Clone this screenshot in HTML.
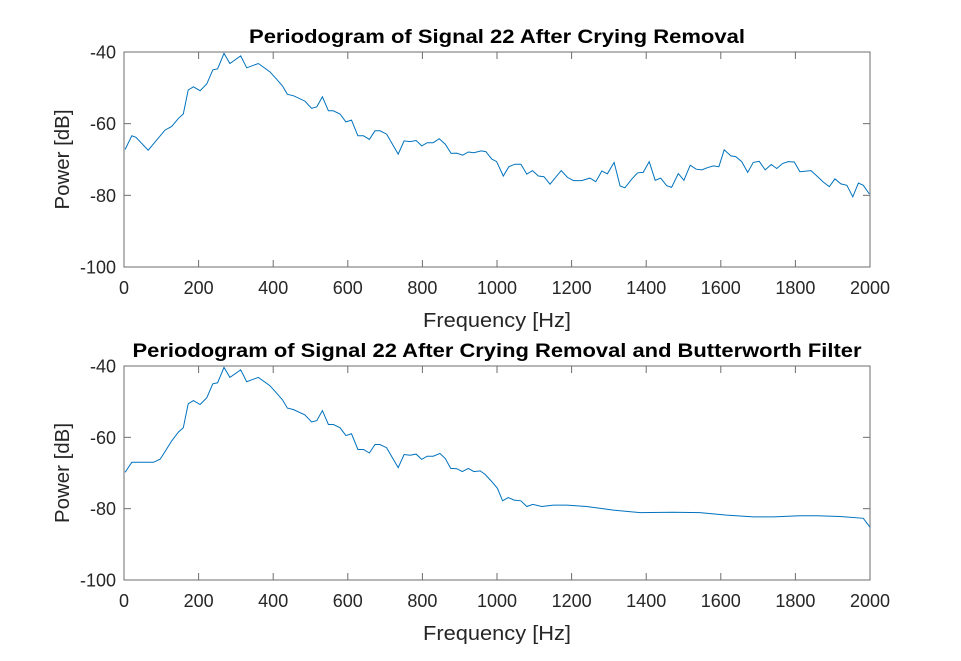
<!DOCTYPE html>
<html><head><meta charset="utf-8"><style>
html,body{margin:0;padding:0;background:#fff;}
svg{display:block;font-family:"Liberation Sans",Arial,sans-serif;}
</style></head><body>
<svg id="chart" width="961" height="661" viewBox="0 0 961 661" xmlns="http://www.w3.org/2000/svg"></svg>
<script>
const freqTop=[3,21,32,65,110,128,146,159,172,186,204,222,238,251,268,284,313,329,360,391,409,425,438,454,485,503,517,532,548,561,579,595,610,627,642,658,673,686,704,735,751,767,783,798,813,829,845,861,877,892,908,923,938,957,970,986,999,1017,1032,1048,1064,1080,1095,1111,1126,1142,1172,1189,1205,1227,1249,1265,1281,1296,1314,1330,1343,1361,1377,1392,1408,1424,1439,1455,1468,1486,1501,1518,1534,1549,1564,1580,1595,1609,1627,1640,1656,1672,1687,1703,1719,1735,1750,1766,1781,1797,1812,1842,1875,1891,1906,1922,1938,1954,1969,1982,1998];
const powerTop=[-67.2,-63.4,-63.8,-67.4,-61.8,-60.8,-58.5,-57.3,-50.6,-49.7,-50.8,-48.9,-45.0,-44.7,-40.4,-43.2,-41.1,-44.4,-43.2,-45.5,-47.6,-49.5,-51.8,-52.2,-53.7,-55.7,-55.3,-52.5,-56.4,-56.4,-57.3,-59.5,-59.0,-63.4,-63.4,-64.4,-62.0,-62.0,-62.9,-68.5,-64.8,-65.0,-64.7,-66.2,-65.3,-65.3,-64.2,-65.7,-68.3,-68.2,-68.8,-67.9,-68.1,-67.6,-67.8,-69.9,-70.6,-74.6,-72.0,-71.3,-71.3,-74.1,-73.1,-74.6,-74.8,-76.9,-73.1,-75.0,-75.9,-75.9,-75.2,-76.2,-73.2,-74.0,-70.8,-77.4,-77.9,-75.5,-73.7,-73.6,-70.6,-75.8,-75.2,-77.3,-77.8,-73.9,-75.8,-71.6,-72.7,-72.9,-72.3,-71.8,-72.0,-67.3,-69.0,-69.2,-70.6,-73.6,-70.8,-70.5,-72.9,-71.4,-72.5,-71.1,-70.6,-70.7,-73.4,-73.1,-76.3,-77.6,-75.4,-76.8,-77.2,-80.4,-76.6,-77.2,-79.6];
const freqBottom=[3,21,79,97,110,128,146,159,172,186,204,222,238,251,268,284,313,329,360,391,409,425,438,454,485,503,517,532,548,561,579,595,610,627,642,658,673,686,704,735,751,767,783,798,813,829,847,861,876,892,907,923,938,955,968,986,1001,1015,1030,1046,1064,1080,1096,1120,1151,1187,1240,1312,1383,1473,1544,1616,1687,1741,1812,1857,1920,1982,2000];
const powerBottom=[-69.8,-67.0,-67.0,-66.1,-64.0,-61.0,-58.5,-57.3,-50.6,-49.7,-50.8,-48.9,-45.0,-44.7,-40.4,-43.2,-41.1,-44.4,-43.2,-45.5,-47.6,-49.5,-51.8,-52.2,-53.7,-55.7,-55.3,-52.5,-56.4,-56.4,-57.3,-59.5,-59.0,-63.4,-63.4,-64.4,-62.0,-62.0,-62.9,-68.5,-64.8,-65.0,-64.7,-66.2,-65.3,-65.3,-64.5,-65.9,-68.7,-68.8,-69.6,-68.7,-69.6,-69.4,-70.4,-72.4,-74.3,-77.8,-76.9,-77.6,-77.8,-79.4,-78.8,-79.4,-79.0,-79.0,-79.4,-80.4,-81.1,-81.0,-81.1,-81.8,-82.3,-82.3,-82.0,-82.0,-82.2,-82.7,-85.2];
const xTicks=[0,200,400,600,800,1000,1200,1400,1600,1800,2000];
const yTicks=[-40,-60,-80,-100];

const NS="http://www.w3.org/2000/svg";
const svg=document.getElementById('chart');
function mk(tag,attrs,parent){const e=document.createElementNS(NS,tag);for(const k in attrs)e.setAttribute(k,attrs[k]);(parent||svg).appendChild(e);return e;}

function panel(top,bottom,title,titleLen,fx,py,key){
  const L=124,R=870;
  const sx=v=>L+(v-0)/(2000-0)*(R-L);
  const sy=v=>top+(-40-v)/60*(bottom-top);
  const g=mk('g',{});
  
  
  const ax=mk('rect',{x:L,y:top,width:R-L,height:bottom-top,fill:'#fff',stroke:'#6e6e6e','stroke-width':1},g);
  
  
  xTicks.forEach(t=>{
    const x=sx(t);
    mk('line',{x1:x,y1:bottom,x2:x,y2:bottom-7,stroke:'#6e6e6e'},g);
    mk('line',{x1:x,y1:top,x2:x,y2:top+7,stroke:'#6e6e6e'},g);
    const tx=mk('text',{x:x,y:bottom+27,'text-anchor':'middle','font-size':18,fill:'#262626'},g);
    tx.textContent=t;
    
    
  });
  yTicks.forEach(t=>{
    const y=sy(t);
    mk('line',{x1:L,y1:y,x2:L+7,y2:y,stroke:'#6e6e6e'},g);
    mk('line',{x1:R,y1:y,x2:R-7,y2:y,stroke:'#6e6e6e'},g);
    const tx=mk('text',{x:L-8,y:y+6.5,'text-anchor':'end','font-size':18,fill:'#262626'},g);
    tx.textContent=t;
    
    
  });
  const d=fx.map((f,i)=>(i?'L':'M')+sx(f).toFixed(1)+','+sy(py[i]).toFixed(1)).join(' ');
  const p=mk('path',{d:d,fill:'none',stroke:'#0072BD','stroke-width':1},g);
  
  
  const tt=mk('text',{x:(L+R)/2,y:top-9,'text-anchor':'middle','font-size':19,'font-weight':'bold',fill:'#000',textLength:titleLen,lengthAdjust:'spacingAndGlyphs'},g);
  tt.textContent=title;
  
  
  const xl=mk('text',{x:497,y:bottom+60,'text-anchor':'middle','font-size':20,fill:'#262626',textLength:148,lengthAdjust:'spacingAndGlyphs'},g);
  xl.textContent='Frequency [Hz]';
  
  
  const cy=(top+bottom)/2;
  const yl=mk('text',{x:69,y:cy,'text-anchor':'middle','font-size':20,fill:'#262626',textLength:100,lengthAdjust:'spacingAndGlyphs',transform:'rotate(-90 69 '+cy+')'},g);
  yl.textContent='Power [dB]';
  
  
}
panel(52,267,'Periodogram of Signal 22 After Crying Removal',496,freqTop,powerTop,'top');
panel(366,580,'Periodogram of Signal 22 After Crying Removal and Butterworth Filter',729,freqBottom,powerBottom,'bottom');
</script>
</body></html>
